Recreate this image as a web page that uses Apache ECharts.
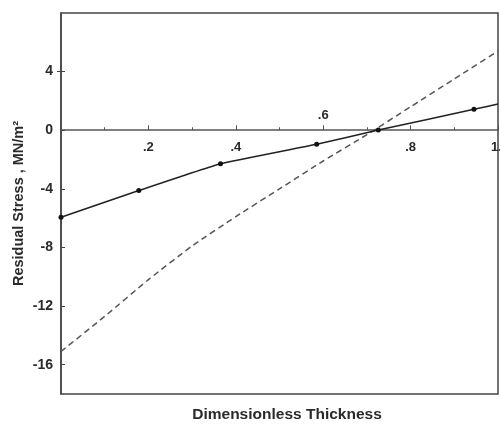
<!DOCTYPE html>
<html>
<head>
<meta charset="utf-8">
<script src="https://cdn.jsdelivr.net/npm/echarts@6/dist/echarts.min.js"></script>
<style>html,body{margin:0;padding:0;background:#fff}#c{width:500px;height:425px}</style>
</head>
<body>
<div id="c"></div>
<script>
// Data
var solidX = [0, 0.178, 0.365, 0.585, 0.726, 0.945, 1.0];
var solidY = [-5.94, -4.12, -2.29, -0.96, 0.01, 1.43, 1.79];
var solidMarked = [true, true, true, true, true, true, false];
var dashedX = [0, 0.1, 0.2, 0.3, 0.4, 0.5, 0.6, 0.7, 0.8, 0.9, 1.0];
var dashedY = [-15.1, -12.7, -10.2, -7.9, -5.9, -4.0, -2.1, -0.3, 1.6, 3.5, 5.4];
var yTicks = [-16, -12, -8, -4, 0, 4];
var xTickLabels = {'0.2': '.2', '0.4': '.4', '0.6': '.6', '0.8': '.8', '1': '1.'};
var yMin = -18, yMax = 8;

var W = 500, H = 425;
var G = { left: 61, right: 2, top: 13, bottom: 31 };
var plotH = H - G.top - G.bottom;
var zeroFromBottom = (0 - yMin) / (yMax - yMin) * plotH;
var zeroFromTop = plotH - zeroFromBottom;

var chart = echarts.init(document.getElementById('c'));
var font = '"Liberation Sans", Arial, sans-serif';
var ink = '#2a2a2a';

function lbl(v) { var k = String(Math.round(v * 10) / 10); return xTickLabels[k] || ''; }

var solidData = solidX.map(function (x, i) {
  return { value: [x, solidY[i]], symbol: solidMarked[i] ? 'circle' : 'none' };
});
var dashedData = dashedX.map(function (x, i) { return [x, dashedY[i]]; });

chart.setOption({
  animation: false,
  title: {
    text: 'Dimensionless Thickness',
    left: 282, top: 402, textAlign: 'center',
    textStyle: { fontFamily: font, fontSize: 15.5, fontWeight: 'bold', color: ink }
  },
  grid: { left: G.left, right: G.right, top: G.top, bottom: G.bottom, outerBoundsMode: 'none', containLabel: false,
    show: true, borderColor: '#444', borderWidth: 1.5, backgroundColor: 'transparent' },
  xAxis: [{
    type: 'value', min: 0, max: 1, interval: 0.2, position: 'bottom', offset: -zeroFromBottom,
    axisLine: { show: true, onZero: false, lineStyle: { color: '#555', width: 1.5 } },
    axisTick: { show: true, inside: true, length: 5, lineStyle: { color: '#555' } },
    minorTick: { show: true, splitNumber: 2, length: 3, lineStyle: { color: '#555' } },
    splitLine: { show: false },
    axisLabel: {
      margin: 11, fontFamily: font, fontSize: 13, fontWeight: 'bold', color: ink, hideOverlap: false,
      formatter: function (v) { var s = lbl(v); if (s === '.6') return ''; if (s === '1.') return '{r|1.}'; return s; },
      rich: { r: { fontFamily: font, fontSize: 13, fontWeight: 'bold', color: ink, padding: [0, 3, 0, 0] } }
    }
  }, {
    type: 'value', min: 0, max: 1, interval: 0.2, position: 'top', offset: -zeroFromTop,
    axisLine: { show: false, onZero: false },
    axisTick: { show: false },
    splitLine: { show: false },
    axisLabel: {
      margin: 8, fontFamily: font, fontSize: 13, fontWeight: 'bold', color: ink,
      formatter: function (v) { var s = lbl(v); return s === '.6' ? s : ''; }
    }
  }],
  yAxis: [{
    type: 'value', min: yMin, max: yMax, position: 'left',
    name: 'Residual Stress , MN/m²', nameLocation: 'middle', nameGap: 35, nameRotate: 90, nameMoveOverlap: false,
    nameTextStyle: { fontFamily: font, fontSize: 14.5, fontWeight: 'bold', color: ink },
    axisLine: { show: true, lineStyle: { color: '#444', width: 1.5 } },
    axisTick: { show: true, inside: true, length: 4, customValues: yTicks, lineStyle: { color: '#444' } },
    axisLabel: { customValues: yTicks, margin: 8, fontFamily: font, fontSize: 14, fontWeight: 'bold', color: ink },
    splitLine: { show: false }
  }, {
    type: 'value', min: yMin, max: yMax, position: 'right',
    axisLine: { show: false },
    axisTick: { show: true, inside: true, length: 4, customValues: [4], lineStyle: { color: '#444' } },
    axisLabel: { show: false },
    splitLine: { show: false }
  }],
  series: [{
    type: 'line', data: dashedData, smooth: 0.2, symbol: 'none',
    lineStyle: { color: '#555', width: 1.5, type: [6, 4] }
  }, {
    type: 'line', data: solidData, smooth: 0.1, symbolSize: 5,
    itemStyle: { color: '#111' },
    lineStyle: { color: '#222', width: 1.6 }
  }]
});
</script>
</body>
</html>
